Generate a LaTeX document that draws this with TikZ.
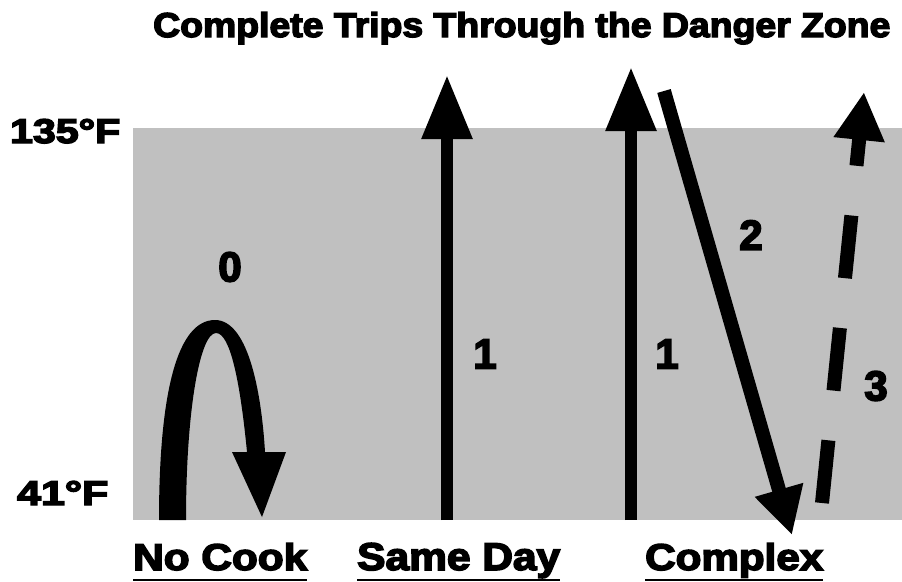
\documentclass[tikz,border=0pt]{standalone}
\usepackage{fontspec}
\newfontfamily\hv[FakeBold=4]{Liberation Sans Bold}
\usetikzlibrary{arrows.meta,calc}
\definecolor{zone}{RGB}{192,192,192}
\begin{document}
\begin{tikzpicture}[x=1pt,y=-1pt,
  lbl/.style={inner sep=0pt, anchor=base west, font=\hv},
  num/.style={inner sep=0pt, anchor=center, font=\hv\fontsize{42}{42}\selectfont},
  shaft/.style={line width=12pt, line cap=butt},
  bighead/.style={-{Triangle[length=64pt,width=48pt]}},
  slanthead/.style={-{Triangle[length=47pt,width=47pt]}},
  uline/.style={line width=2.5pt}]
\useasboundingbox (0,0) rectangle (902,581);
% danger zone
\fill[zone] (133,128) rectangle (902,520);
% title and temperature labels
\node[lbl] (title) at (153,37) {\resizebox{737pt}{25pt}{Complete Trips Through the Danger Zone}};
\node[lbl] (hot) at (10,143) {\resizebox{110pt}{24pt}{135°F}};
\node[lbl] (cold) at (17,505) {\resizebox{91pt}{24pt}{41°F}};
% bottom labels
\node[lbl] (nocook) at (133,570) {\resizebox{174pt}{27pt}{No Cook}};
\node[lbl] (sameday) at (357,570) {\resizebox{203pt}{27pt}{Same Day}};
\node[lbl] (complex) at (645,570) {\resizebox{178pt}{27pt}{Complex}};
\foreach \n in {nocook,sameday,complex}
  \draw[uline] ($(\n.base west)+(0,10)$) -- ($(\n.base east)+(0,10)$);
% numbers
\node[num] (n0) at (230,267) {0};
\node[num] (n1a) at (485,354) {1};
\node[num] (n1b) at (667,354) {1};
\node[num] (n2) at (751,235) {2};
\node[num] (n3) at (876,386) {3};
% no cook: up-and-back arrow
\fill (159,520) .. controls (159,390) and (178,320) .. (215,320)
  .. controls (250,320) and (262,400) .. (265,452)
  -- (286,452) -- (262,517) -- (232,452) -- (247,452)
  .. controls (240,380) and (230,333) .. (216,333)
  .. controls (200,333) and (186,410) .. (186,520) -- cycle;
% same day
\coordinate (sdA) at (447,520);
\coordinate (sdB) at (447,75);
\draw[shaft,bighead] (sdA) -- (sdB);
% complex
\coordinate (c1A) at (631,520);
\coordinate (c1B) at (631,67);
\draw[shaft,bighead] (c1A) -- (c1B);
\coordinate (c2A) at (664,91);
\coordinate (c2B) at (792,535);
\draw[shaft,line width=14pt,slanthead] (c2A) -- (c2B);
\coordinate (c3A) at (822,503);
\coordinate (c3B) at (864,92);
\draw[shaft,line width=14pt,dash pattern=on 63pt off 50pt,-{Triangle[length=48pt,width=48pt]}] (c3A) -- (c3B);
\end{tikzpicture}
\end{document}
